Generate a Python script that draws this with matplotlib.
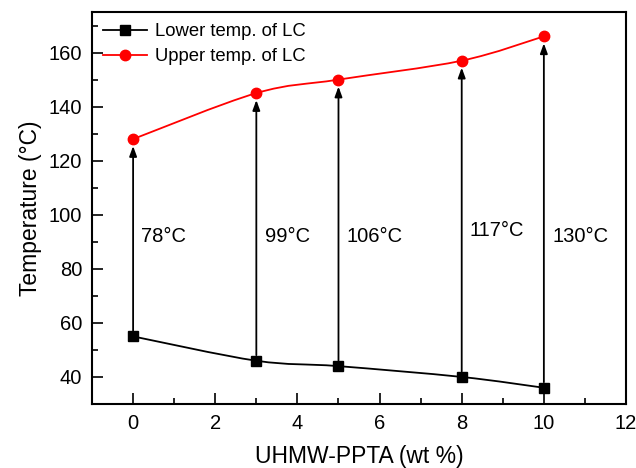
import matplotlib
matplotlib.use("Agg")
import matplotlib.pyplot as plt
import matplotlib.path as mpath
import matplotlib.patches as mpatches
from matplotlib.lines import Line2D
from matplotlib.ticker import MultipleLocator
import numpy as np

plt.rcParams['font.family'] = ['Liberation Sans', 'DejaVu Sans']

# data
conc = [0, 3, 5, 8, 10]
lower_temp = [55, 46, 44, 40, 36]
upper_temp = [128, 145, 150, 157, 166]
gap_labels = ['78', '99', '106', '117', '130']
label_y = [92, 92, 92, 94, 92]


def smooth_path(x, y):
    # catmull-rom style bezier through the points
    x = np.asarray(x, float)
    y = np.asarray(y, float)
    n = len(x)
    verts = [(x[0], y[0])]
    codes = [mpath.Path.MOVETO]
    for i in range(n - 1):
        i0 = max(i - 1, 0)
        i3 = min(i + 2, n - 1)
        c1 = (x[i] + (x[i + 1] - x[i0]) / 6, y[i] + (y[i + 1] - y[i0]) / 6)
        c2 = (x[i + 1] - (x[i3] - x[i]) / 6, y[i + 1] - (y[i3] - y[i]) / 6)
        verts += [c1, c2, (x[i + 1], y[i + 1])]
        codes += [mpath.Path.CURVE4] * 3
    return mpath.Path(verts, codes)


fig = plt.figure(figsize=(6.36, 4.68), dpi=100)
ax = fig.add_axes([0.1447, 0.1368, 0.8396, 0.8375])

for xs, ys, col in [(conc, lower_temp, 'black'), (conc, upper_temp, 'red')]:
    ax.add_patch(mpatches.PathPatch(smooth_path(xs, ys), fill=False,
                                    edgecolor=col, lw=1.3, zorder=2))

ax.plot(conc, lower_temp, 's', color='black', ms=7, zorder=4)
ax.plot(conc, upper_temp, 'o', color='red', ms=7.5, zorder=4)

for xv, lo, hi in zip(conc, lower_temp, upper_temp):
    ax.annotate('', xy=(xv, hi), xytext=(xv, lo),
                arrowprops=dict(arrowstyle='-|>,head_length=0.6,head_width=0.22',
                                color='black', lw=1.3, shrinkA=4, shrinkB=5),
                zorder=3)

for xv, lab, ly in zip(conc, gap_labels, label_y):
    ax.text(xv + 0.2, ly, lab + '°C', fontsize=14.5, ha='left', va='center')

ax.set_xlim(-1, 12)
ax.set_ylim(30, 175)
ax.xaxis.set_major_locator(MultipleLocator(2))
ax.xaxis.set_minor_locator(MultipleLocator(1))
ax.yaxis.set_major_locator(MultipleLocator(20))
ax.yaxis.set_minor_locator(MultipleLocator(10))
ax.tick_params(which='both', direction='in', labelsize=14.5, width=1.2)
ax.tick_params(which='major', length=8, pad=7)
ax.tick_params(which='minor', length=4.5)
for sp in ax.spines.values():
    sp.set_linewidth(1.5)

ax.set_xlabel('UHMW-PPTA (wt %)', fontsize=16.5, labelpad=9)
ax.set_ylabel('Temperature (°C)', fontsize=16.5, labelpad=5)

handles = [
    Line2D([], [], color='black', marker='s', ms=7, lw=1.3),
    Line2D([], [], color='red', marker='o', ms=7.5, lw=1.3),
]
ax.legend(handles, ['Lower temp. of LC', 'Upper temp. of LC'],
          loc='upper left', frameon=False, fontsize=13.3, handlelength=2.4,
          borderaxespad=0.2, labelspacing=0.45, handletextpad=0.4,
          borderpad=0.4)

fig.savefig('out.png', dpi=100)
